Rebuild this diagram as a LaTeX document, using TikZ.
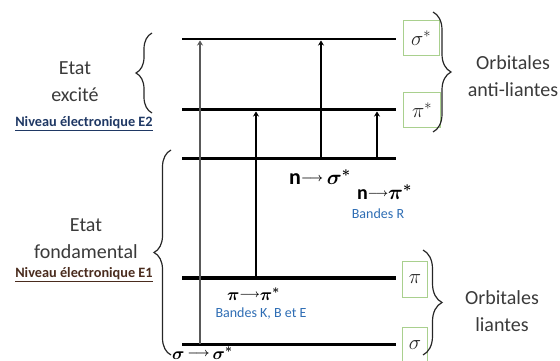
\documentclass[tikz,border=0pt]{standalone}
\usepackage{fontspec}
\setmainfont{Carlito}
\usetikzlibrary{arrows.meta,decorations.pathreplacing}
\definecolor{txtgray}{HTML}{3A3A3A}
\definecolor{boxgreen}{HTML}{A9D08E}
\definecolor{bandblue}{HTML}{2E6DB4}
\definecolor{navyE}{HTML}{1F3864}
\definecolor{brownE}{HTML}{4A2C1E}
% transition label: #1 glyph size, #2 arrow size, #3 left, #4 right
\newcommand{\translab}[4]{{\fontsize{#1}{#1}\selectfont #3}\raisebox{2.2pt}{\fontsize{#2}{#2}\selectfont$\longrightarrow$}{\fontsize{#1}{#1}\selectfont #4}}
\begin{document}
\begin{tikzpicture}[x=1pt,y=-1pt,
  level/.style={line width=3pt,black},
  trans/.style={line width=2.3pt,black,-{Stealth[length=5pt,width=6pt]}},
  orbbox/.style={draw=boxgreen,line width=0.9pt,inner sep=0pt,text=black!85,font=\fontsize{22}{22}\selectfont},
  bigtxt/.style={font=\fontsize{20}{27}\selectfont,text=txtgray,align=center},
  niveau/.style={font=\fontsize{14.3}{16}\selectfont\bfseries},
  bande/.style={font=\fontsize{14}{16}\selectfont,text=bandblue},
  tlabel/.style={font=\bfseries\boldmath,text=black,inner sep=0pt},
  bracestyle/.style={line width=1.2pt,black!85,decorate}
]
\useasboundingbox (0,0) rectangle (560,361);
% level end points
\coordinate (s1L) at (182,39);  \coordinate (s1R) at (396,39);
\coordinate (p1L) at (182,110); \coordinate (p1R) at (396,110);
\coordinate (nL)  at (182,158); \coordinate (nR)  at (396,158);
\coordinate (pL)  at (182,278); \coordinate (pR)  at (396,278);
\coordinate (sL)  at (182,344); \coordinate (sR)  at (396,344);
\draw[level,line width=2.2pt] (s1L) -- (s1R);
\draw[level] (p1L) -- (p1R);
\draw[level] (nL) -- (nR);
\draw[level,line width=3.3pt] (pL) -- (pR);
\draw[level] (sL) -- (sR);
% transition end points
\coordinate (a1b) at (200,344); \coordinate (a1t) at (200,40.5);
\coordinate (a2b) at (256,278); \coordinate (a2t) at (256,111.5);
\coordinate (a3b) at (321,158); \coordinate (a3t) at (321,40.5);
\coordinate (a4b) at (377,158); \coordinate (a4t) at (377,111.5);
\draw[trans,line width=2.8pt,black!65] (a1b) -- (a1t);
\draw[trans] (a2b) -- (a2t);
\draw[trans] (a3b) -- (a3t);
\draw[trans] (a4b) -- (a4t);
% orbital boxes
\node[orbbox,minimum width=36pt,minimum height=35pt] (bs1) at (421,38) {$\sigma^{*}$};
\node[orbbox,minimum width=37pt,minimum height=35pt] (bp1) at (422,110) {$\pi^{*}$};
\node[orbbox,minimum width=25pt,minimum height=36pt,font=\fontsize{20}{20}\selectfont] (bp) at (415,279) {$\pi$};
\node[orbbox,minimum width=25pt,minimum height=36pt,font=\fontsize{20}{20}\selectfont] (bs) at (415,345) {$\sigma$};
% braces
\coordinate (lb1a) at (152,113); \coordinate (lb1b) at (152,33);
\coordinate (lb2a) at (171,355); \coordinate (lb2b) at (171,150);
\coordinate (rb1a) at (433,12);  \coordinate (rb1b) at (433,132);
\coordinate (rb2a) at (423,250); \coordinate (rb2b) at (423,355);
\draw[bracestyle,decoration={brace,amplitude=16pt}] (lb1a) -- (lb1b);
\draw[bracestyle,decoration={brace,amplitude=17pt}] (lb2a) -- (lb2b);
\draw[bracestyle,decoration={brace,amplitude=18pt}] (rb1a) -- (rb1b);
\draw[bracestyle,decoration={brace,amplitude=19pt}] (rb2a) -- (rb2b);
% left texts
\node[bigtxt] (exc) at (75,82) {Etat\\excité};
\node[niveau,text=navyE] (e2) at (84,124) {\underline{Niveau électronique E2}};
\node[bigtxt] (fond) at (86,239) {Etat\\fondamental};
\node[niveau,text=brownE] (e1) at (84,275) {\underline{Niveau électronique E1}};
% right texts
\node[bigtxt] (anti) at (513,76) {Orbitales\\anti-liantes};
\node[bigtxt] (liant) at (502,311) {Orbitales\\liantes};
% transition labels
\node[tlabel,anchor=base west] (l3) at (289,184) {\translab{22}{13}{n}{\,$\sigma^{*}$}};
\node[tlabel,anchor=base west] (l4) at (357,199) {\translab{20}{11}{n}{$\pi^{*}$}};
\node[bande] (br) at (378,214) {Bandes R};
\node[tlabel,anchor=base west] (l2) at (227,300) {\translab{18}{11}{$\pi$}{$\pi^{*}$}};
\node[bande] (bk) at (261,314) {Bandes K, B et E};
\node[tlabel,anchor=base west] (l1) at (172,359) {\translab{17}{13}{$\sigma$\,}{\,$\sigma^{*}$}};
\end{tikzpicture}
\end{document}
